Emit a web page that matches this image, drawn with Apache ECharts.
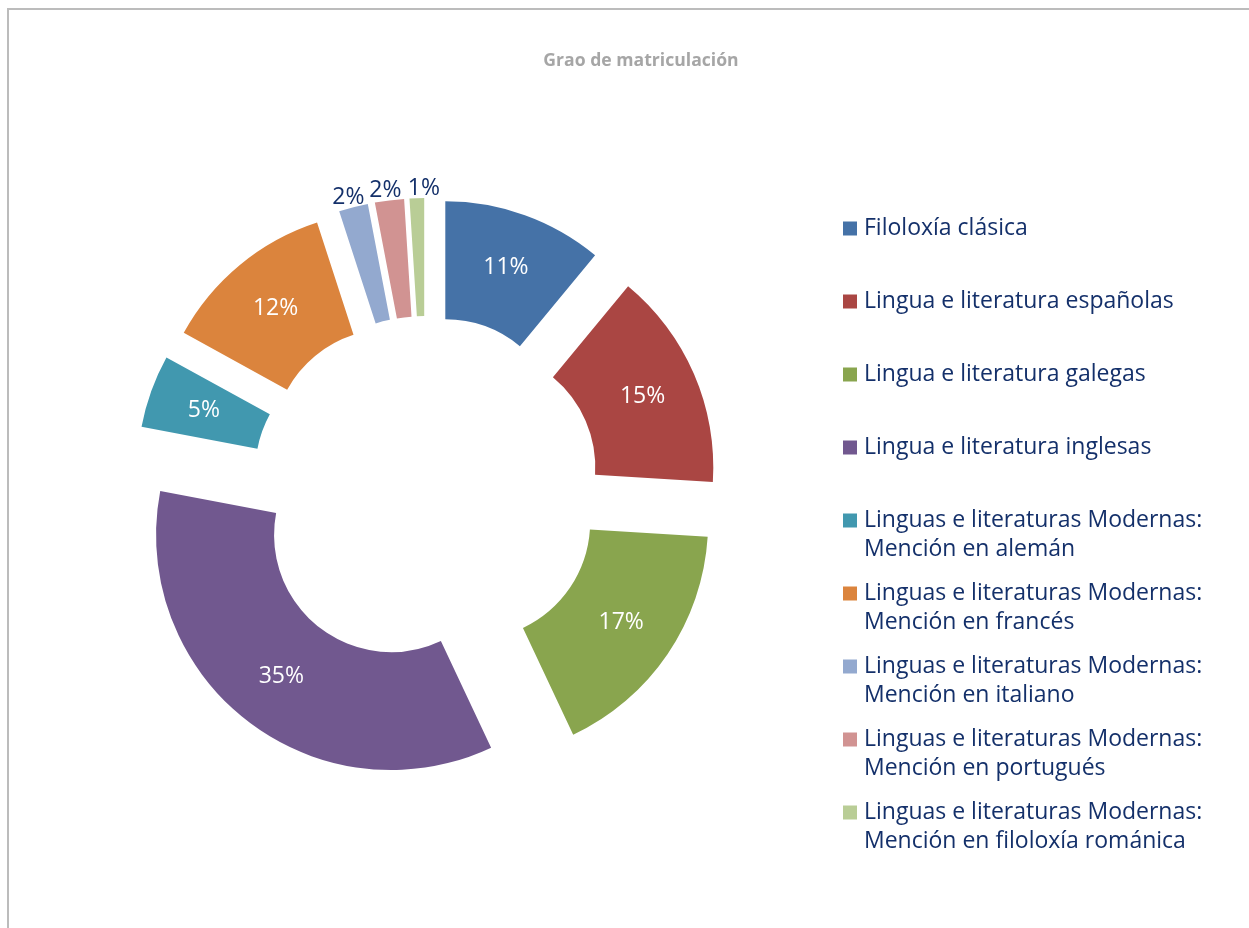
<!DOCTYPE html>
<html lang="es">
<head>
    <meta charset="UTF-8">
    <title>Grao de matriculación</title>
    <script src="https://cdn.jsdelivr.net/npm/echarts@6/dist/echarts.min.js"></script>
    <style>
        html, body { margin: 0; padding: 0; background: #fff; }
        #frame {
            position: absolute; left: 7px; top: 8px; width: 1260px; height: 940px;
            border-top: 2px solid #bcbcbc; border-left: 2px solid #bcbcbc;
        }
        #main { position: absolute; left: 0; top: 0; width: 1249px; height: 928px; }
    </style>
</head>
<body>
<div id="frame"></div>
<div id="main"></div>
<script type="text/javascript">
    // datos
    var categorias = [
        'Filoloxía clásica',
        'Lingua e literatura españolas',
        'Lingua e literatura galegas',
        'Lingua e literatura inglesas',
        'Linguas e literaturas Modernas:\nMención en alemán',
        'Linguas e literaturas Modernas:\nMención en francés',
        'Linguas e literaturas Modernas:\nMención en italiano',
        'Linguas e literaturas Modernas:\nMención en portugués',
        'Linguas e literaturas Modernas:\nMención en filoloxía románica'
    ];
    var porcentaxes = [11, 15, 17, 35, 5, 12, 2, 2, 1];
    var cores = ['#4572a7', '#aa4643', '#89a54e', '#71588f', '#4198af',
                 '#db843d', '#93a9cf', '#d19392', '#b9cd96'];
    var azul = '#14306a';
    var fonte = '"Open Sans", "Noto Sans", sans-serif';
    // axuste horizontal das etiquetas pequenas (italiano, portugués, románica)
    var axusteEtiqueta = { 6: 0, 7: 1, 8: 12 };

    var datos = porcentaxes.map(function (v, i) {
        var item = { name: categorias[i], value: v, selected: true,
                     itemStyle: { color: cores[i] } };
        if (v <= 2) {
            // etiquetas pequenas fóra da porción
            item.label = { position: 'outside', color: azul };
            item.labelLine = { show: false, length: 0, length2: 0 };
        }
        return item;
    });

    // lenda con cadradiño na primeira liña
    var rich = {
        t: { fontFamily: fonte, fontSize: 23, color: azul, height: 29, lineHeight: 29, padding: [0, 0, 0, 7] },
        s: { fontSize: 23, width: 14, height: 29, lineHeight: 29 }
    };
    cores.forEach(function (c, i) {
        rich['b' + i] = { width: 14, height: 14, backgroundColor: c, lineHeight: 29 };
    });

    var myChart = echarts.init(document.getElementById('main'), null, { renderer: 'canvas' });
    myChart.setOption({
        animation: false,
        title: {
            text: 'Grao de matriculación',
            left: 636, top: 47, textAlign: 'center',
            textStyle: { fontFamily: fonte, fontSize: 17.6, fontWeight: 'bold', color: '#a6a6a6' }
        },
        legend: {
            orient: 'vertical',
            left: 838, top: 214,
            padding: 0,
            itemGap: 15,
            itemWidth: 0, itemHeight: 0,
            selectedMode: false,
            data: categorias,
            formatter: function (name) {
                var i = categorias.indexOf(name);
                var linhas = name.split('\n');
                var txt = '{b' + i + '|}{t|' + linhas[0] + '}\n{s| }';
                if (linhas[1]) txt += '{t|' + linhas[1] + '}';
                return txt;
            },
            textStyle: { fontSize: 23, lineHeight: 29, rich: rich }
        },
        series: [{
            type: 'pie',
            center: [426, 490],
            radius: [117, 235],
            startAngle: 90,
            clockwise: true,
            selectedMode: 'multiple',
            selectedOffset: 57,
            avoidLabelOverlap: false,
            select: { itemStyle: { borderWidth: 0 } },
            emphasis: { disabled: true },
            label: {
                show: true,
                position: 'inside',
                formatter: '{c}%',
                fontFamily: fonte,
                fontSize: 23,
                color: '#ffffff'
            },
            labelLayout: function (p) {
                if (porcentaxes[p.dataIndex] <= 2) {
                    return { dx: p.labelRect.width / 2 + axusteEtiqueta[p.dataIndex], dy: -10 };
                }
                return {};
            },
            data: datos
        }]
    });
</script>
</body>
</html>
